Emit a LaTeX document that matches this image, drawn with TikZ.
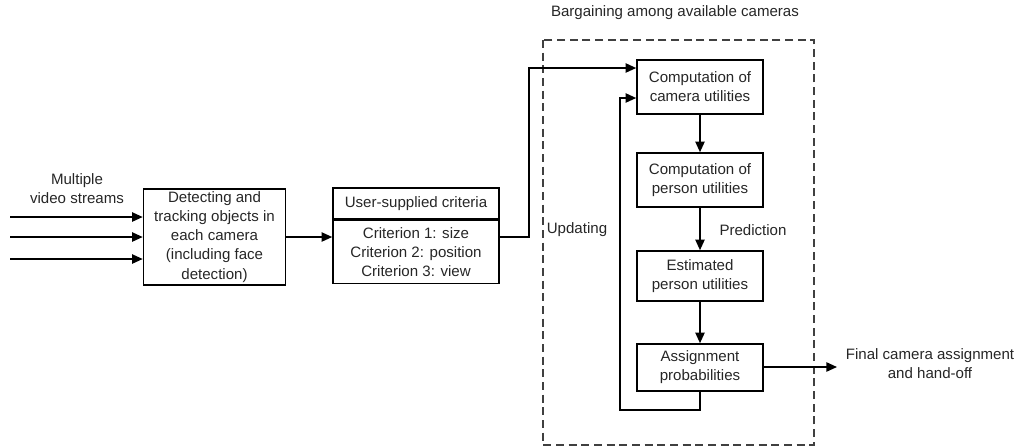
\documentclass[tikz,border=0pt]{standalone}
\usepackage{fontspec}
\setmainfont{Liberation Sans}
\usetikzlibrary{arrows.meta, positioning}

\begin{document}
\begin{tikzpicture}[x=0.75pt, y=-0.75pt, >={Triangle[length=8pt,width=7pt]},
  line width=1.2pt, font=\fontsize{11.3}{14.3}\selectfont,
  box/.style={draw, align=center, inner sep=2pt, text=black!85},
  lbl/.style={align=center, text=black!85}]
  \useasboundingbox (0,0) rectangle (1018,447);
  % bargaining frame
  \draw[black!75, line width=0.9pt, dash pattern=on 6pt off 3.5pt] (543,40) rectangle (814,445);
  \node[lbl] (bargain) at (675,13) {Bargaining among available cameras};
  % boxes
  \node[box, minimum width=106.5pt, minimum height=70.5pt] (det) at (214.5,237)
    {Detecting and\\tracking objects in\\each camera\\(including face\\detection)};
  \node[box, minimum width=124.5pt, minimum height=23.25pt] (critHead) at (416,203.5)
    {User-supplied criteria};
  \node[box, minimum width=124.5pt, minimum height=47.25pt, below=0pt of critHead] (critBody)
    {Criterion 1: size\\Criterion 2: position\\Criterion 3: view};
  \node[box, minimum width=94.5pt, minimum height=40.5pt] (camU) at (700,87)
    {Computation of\\camera utilities};
  \node[box, minimum width=94.5pt, minimum height=40.5pt] (perU) at (700,180)
    {Computation of\\person utilities};
  \node[box, minimum width=94.5pt, minimum height=37.5pt] (estU) at (700,276)
    {Estimated\\person utilities};
  \node[box, minimum width=94.5pt, minimum height=35.25pt] (asg) at (700,367.5)
    {Assignment\\probabilities};
  % labels
  \node[lbl] (streams) at (77,189) {Multiple\\video streams};
  \node[lbl] (predict) at (753,230) {Prediction};
  \node[lbl] (update) at (577,230) {Updating};
  \node[lbl] (final) at (930,363.5) {Final camera assignment\\and hand-off};
  % free ends
  \coordinate (in1) at (10,217);
  \coordinate (in2) at (10,237);
  \coordinate (in3) at (10,259);
  \coordinate (up) at (529,68);
  \coordinate (loop) at (620,410);
  \coordinate (fb) at (620,98);
  \coordinate (out) at (837,367);
  % connectors
  \foreach \i in {in1,in2,in3}
    \draw[->] (\i) -- (\i -| det.west);
  \draw[->] (det.east) -- (det.east -| critBody.west);
  \draw[->] (det.east -| critBody.east) -| (up) -- (up -| camU.west);
  \draw[->] (camU) -- (perU);
  \draw[->] (perU) -- (estU);
  \draw[->] (estU) -- (asg);
  \draw[->] (asg.south) |- (loop) -- (fb) -- (fb -| camU.west);
  \draw[->] (asg.east |- out) -- (out);
\end{tikzpicture}
\end{document}
